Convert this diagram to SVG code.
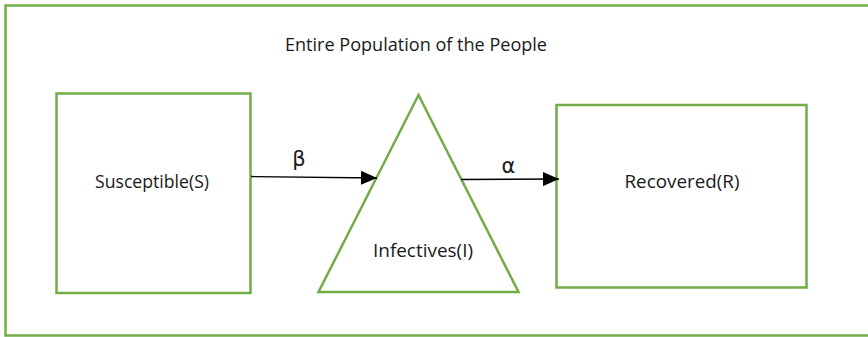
<svg xmlns="http://www.w3.org/2000/svg" width="868" height="337" viewBox="0 0 868 337">
<defs>
<style>
.box{fill:none;stroke:#70ad47;stroke-width:2.5}
.lbl{font-family:"Open Sans","Liberation Sans",sans-serif;font-size:17.5px;fill:#1a1a1a}
.greek{font-family:"DejaVu Sans","Liberation Sans",sans-serif;font-size:21px;fill:#1a1a1a}
.conn{stroke:#000;stroke-width:1.3;fill:none;marker-end:url(#ah)}
</style>
<marker id="ah" markerUnits="userSpaceOnUse" markerWidth="16" markerHeight="14" refX="16" refY="7" orient="auto">
<path d="M0,0 L16,7 L0,14 Z" fill="#000"/>
</marker>
</defs>
<rect width="868" height="337" fill="#fff"/>
<g id="population">
<rect class="box" x="5.5" y="5.5" width="870" height="330"/>
<text class="lbl" x="416" y="50.5" text-anchor="middle" textLength="262" lengthAdjust="spacingAndGlyphs">Entire Population of the People</text>
</g>
<g id="susceptible">
<rect class="box" x="56.5" y="93.5" width="194" height="199.5"/>
<text class="lbl" x="152" y="187.5" text-anchor="middle" textLength="114" lengthAdjust="spacingAndGlyphs">Susceptible(S)</text>
</g>
<g id="infectives">
<polygon class="box" points="418.5,95 318.5,292 518.5,292"/>
<text class="lbl" x="423" y="257" text-anchor="middle" textLength="100" lengthAdjust="spacingAndGlyphs">Infectives(I)</text>
</g>
<g id="recovered">
<rect class="box" x="556.5" y="105" width="250" height="182.5"/>
<text class="lbl" x="682" y="188" text-anchor="middle" textLength="115" lengthAdjust="spacingAndGlyphs">Recovered(R)</text>
</g>
<g id="connectors">
<line class="conn" x1="251" y1="176.5" x2="377" y2="178"/>
<line class="conn" x1="461" y1="179.5" x2="559" y2="179"/>
<text class="greek" x="299" y="166" text-anchor="middle">β</text>
<text class="greek" x="508.5" y="173" text-anchor="middle">α</text>
</g>
</svg>
